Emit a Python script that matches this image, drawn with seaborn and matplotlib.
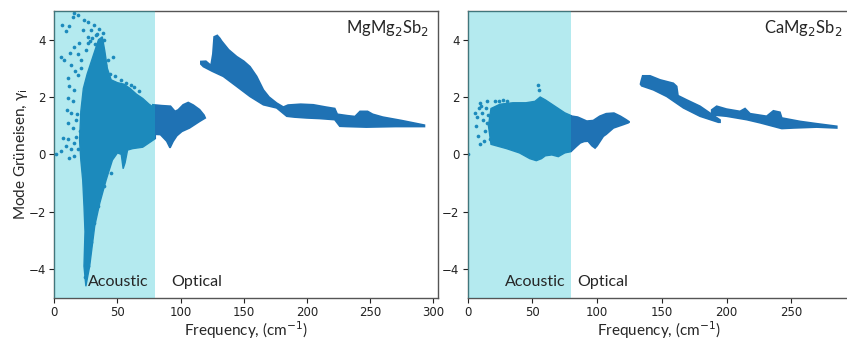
import matplotlib
matplotlib.use("Agg")
import matplotlib.pyplot as plt
import seaborn as sns
import pandas as pd

# ---------------- data ----------------
# MgMg2Sb2 : dense acoustic cloud outline (frequency, gamma)
mg_ac_core_f = [25, 28, 32, 36, 41, 46, 50, 53, 54.5, 56, 58, 62, 70, 75, 80,
                80, 75, 70, 65, 60, 55, 50, 45, 42, 40, 38, 35, 32, 29, 26, 23, 21, 20, 21, 22.5, 23.5, 24.3, 23.5]
mg_ac_core_g = [-4.6, -3.9, -2.5, -1.7, -0.9, -0.2, 0.05, 0.0, -0.5, -0.3, 0.15, 0.2, 0.25, 0.4, 0.55,
                1.6, 1.75, 1.95, 2.1, 2.3, 2.45, 2.5, 2.6, 3.0, 3.6, 4.1, 4.0, 3.6, 3.2, 2.8, 2.3, 1.5, 0.5, -0.2, -0.9, -1.8, -2.7, -3.9]
# MgMg2Sb2 : scattered acoustic points
mg_ac_pts_f = [15.3, 18.5, 14.5, 5.8, 11.9, 9.2, 23.7, 26.4, 31.7, 35.6, 38.3, 39.6, 5.3, 7.9, 12.7,
               15.8, 19.8, 13.2, 10.6, 11.9, 15.8, 10.6, 14.5, 10.0, 13.2, 10.6, 14.5, 6.6, 10.6, 15.8,
               9.2, 1.3, 5.3, 13.2, 18.5, 43.5, 52.8, 60.7, 46.2, 42.2, 22.4, 29.0, 33.0, 26.4, 25.0,
               34.3, 21.1, 18.5, 22.4, 25.0, 26.4, 25.0, 26.4, 25.0, 25.0, 25.0, 24.3, 26.4, 29.0,
               31.7, 34.3, 39.6, 44.9, 15.8, 11.9, 17.0, 20.0, 16.5, 19.0, 36.5, 28.0, 32.5, 37.0,
               30.0, 33.5, 27.0, 40.5, 44.0, 48.0, 57.0, 63.0, 67.0, 21.5, 18.0, 17.5]
mg_ac_pts_g = [4.94, 4.86, 4.80, 4.51, 4.47, 4.31, 4.68, 4.60, 4.51, 4.39, 4.22, 3.99, 3.41, 3.29, 3.53,
               3.76, 3.87, 3.12, 2.66, 2.37, 2.25, 1.96, 1.85, 1.56, 1.44, 1.10, 0.92, 0.57, 0.52, 0.40,
               0.28, 0.00, 0.11, 0.17, 0.17, 2.54, 2.60, 2.43, 3.41, 3.29, 4.34, 4.34, 4.16, 4.10, 3.64,
               3.76, 3.00, 2.77, -0.29, -0.99, -1.57, -2.14, -2.72, -3.30, -3.65, -4.11, -4.29, -3.88, -3.07,
               -2.38, -1.80, -1.10, -0.64, -0.06, -0.12, 1.2, 0.8, 2.9, 3.5, 3.75, 3.95, 3.85, 3.6,
               4.05, 4.2, 3.9, 3.1, 2.8, 2.75, 2.5, 2.35, 2.2, 3.3, 1.4, 0.6]
# MgMg2Sb2 : optical branches (closed outlines)
mg_op1_f = [78, 80, 84, 89, 91.6, 94, 97, 101, 107, 115, 119.5,
            118.5, 115, 110, 106, 102, 98, 95.5, 92, 85, 78]
mg_op1_g = [0.75, 0.7, 0.69, 0.46, 0.23, 0.45, 0.65, 0.8, 0.92, 1.15, 1.27,
            1.37, 1.56, 1.72, 1.81, 1.73, 1.55, 1.5, 1.68, 1.7, 1.73]
mg_op2_f = [116, 120, 124, 125.5, 126.5, 129, 131, 132.5, 138, 144.4, 150, 154.9, 160.2, 165.5, 170,
            176, 181.3, 185, 195, 205, 215, 222, 224, 232, 238, 242, 248, 252, 260, 275, 293,
            293, 270, 247, 232, 226, 222, 210, 199.8, 190, 184, 176, 165.5, 160, 154.9, 144.4,
            133.8, 125, 118, 116]
mg_op2_g = [3.24, 3.25, 3.1, 3.5, 4.1, 4.15, 4.05, 3.95, 3.65, 3.41, 3.25, 3.06, 2.72, 2.25, 2.0,
            1.79, 1.65, 1.72, 1.75, 1.73, 1.65, 1.6, 1.4, 1.35, 1.32, 1.5, 1.5, 1.4, 1.3, 1.18, 1.02,
            0.97, 0.97, 0.95, 0.97, 0.98, 1.21, 1.25, 1.27, 1.3, 1.33, 1.62, 1.73, 1.88, 2.02, 2.37,
            2.72, 2.9, 3.06, 3.15]

# CaMg2Sb2 : dense acoustic cloud outline
ca_ac_core_f = [18, 30, 40, 48, 53, 57, 60, 65, 70, 75, 80,
                80, 75, 70, 65, 60, 56, 52, 45, 35, 25, 18, 16]
ca_ac_core_g = [0.35, 0.2, 0.05, -0.15, -0.22, -0.15, -0.05, -0.02, -0.08, 0.05, 0.1,
                1.35, 1.45, 1.6, 1.75, 1.9, 2.0, 1.85, 1.8, 1.8, 1.75, 1.6, 1.0]
# CaMg2Sb2 : scattered acoustic points
ca_ac_pts_f = [5.4, 6.4, 8.8, 9.5, 14.7, 16.0, 12.1, 8.2, 9.5, 17.3, 13.4, 0.5, 19.8, 22.4, 30.1,
               54.6, 55.4, 11.0, 7.5, 15.0, 18.5, 21.0, 12.5, 10.5, 14.0, 27.0, 24.0]
ca_ac_pts_g = [1.45, 0.98, 1.62, 1.79, 1.85, 1.39, 1.21, 0.63, 0.35, 0.52, 0.81, 0.00, 1.04, 1.56, 1.85,
               2.43, 2.26, 1.45, 1.30, 1.10, 0.75, 1.85, 0.45, 1.70, 1.60, 1.90, 1.85]
# CaMg2Sb2 : optical branches
ca_op1_f = [78, 85, 92, 97, 102, 107, 113, 118, 122, 125,
            124, 120.3, 112.6, 107, 104.8, 100, 98.4, 96, 93, 90, 87, 84, 80, 78]
ca_op1_g = [1.35, 1.3, 1.16, 1.18, 1.33, 1.42, 1.44, 1.33, 1.22, 1.13,
            1.1, 1.04, 0.92, 0.7, 0.63, 0.3, 0.22, 0.3, 0.46, 0.45, 0.4, 0.28, 0.11, 0.1]
ca_op2_f = [134, 135.2, 140.9, 148.6, 158.9, 161.5, 162.5, 169.2, 179.5, 187.2, 195,
            195, 193.7, 179.5, 166.7, 153.8, 143.5, 134.4, 133.5]
ca_op2_g = [2.55, 2.74, 2.74, 2.6, 2.48, 2.37, 2.05, 1.9, 1.68, 1.44, 1.2,
            1.12, 1.12, 1.33, 1.62, 2.02, 2.25, 2.39, 2.45]
ca_op3_f = [188.5, 192.4, 200, 210.4, 214.3, 218.2, 231, 236.2, 241.3, 242.7, 256.8, 269.7, 285.2,
            285.2, 269.7, 251.7, 242.7, 231, 226, 215.6, 200, 188.5]
ca_op3_g = [1.55, 1.68, 1.58, 1.5, 1.6, 1.42, 1.33, 1.52, 1.47, 1.27, 1.15, 1.07, 0.98,
            0.92, 0.95, 0.92, 0.9, 1.04, 1.1, 1.21, 1.33, 1.38]

x_ticks_left = [0, 50, 100, 150, 200, 250, 300]
x_ticks_right = [0, 50, 100, 150, 200, 250]
y_ticks = [-4, -2, 0, 2, 4]
acoustic_edge = 80
titles = ["MgMg$_2$Sb$_2$", "CaMg$_2$Sb$_2$"]

# ---------------- drawing ----------------
sns.set_style("ticks")
plt.rcParams["font.family"] = ["DejaVu Sans"]
label_font = ["Lato", "DejaVu Sans"]
blue = "#1f72b4"

fig = plt.figure(figsize=(8.47, 3.40), dpi=100)
ax1 = fig.add_axes([0.0641, 0.1244, 0.4527, 0.8432])
ax2 = fig.add_axes([0.5522, 0.1244, 0.4527, 0.8432])

panels = [
    (ax1, mg_ac_core_f, mg_ac_core_g, mg_ac_pts_f, mg_ac_pts_g,
     [(mg_op1_f, mg_op1_g), (mg_op2_f, mg_op2_g)], (0, 303.5), x_ticks_left, 26.5, 92.5),
    (ax2, ca_ac_core_f, ca_ac_core_g, ca_ac_pts_f, ca_ac_pts_g,
     [(ca_op1_f, ca_op1_g), (ca_op2_f, ca_op2_g), (ca_op3_f, ca_op3_g)], (0, 296.3), x_ticks_right, 29.0, 84.5),
]

for i, (ax, cf, cg, pf, pg, ops, xlim, xt, ac_x, op_x) in enumerate(panels):
    ax.fill(cf, cg, color=blue, ec=blue, lw=1.0, zorder=2)
    for of, og in ops:
        ax.fill(of, og, color=blue, ec=blue, lw=1.2, zorder=2)
    pts = pd.DataFrame({"f": pf, "g": pg})
    sns.scatterplot(data=pts, x="f", y="g", ax=ax, color=blue, s=7, linewidth=0, zorder=2.5)
    ax.axvspan(0, acoustic_edge, color="tab:cyan", alpha=0.32, lw=0, zorder=3)
    ax.set_xlim(*xlim)
    ax.set_ylim(-5, 5)
    ax.set_xticks(xt)
    ax.set_yticks(y_ticks)
    ax.tick_params(labelsize=8.5, length=3.5, width=0.8, colors="#222222", pad=2.5)
    for sp in ax.spines.values():
        sp.set_visible(True)
        sp.set_color("#555555")
        sp.set_linewidth(1.0)
    ax.set_xlabel("Frequency, (cm$^{-1}$)", fontsize=11, family=label_font, labelpad=0)
    ax.set_ylabel("")
    ax.text(0.977, 0.94, titles[i], transform=ax.transAxes, ha="right", va="center",
            fontsize=12, family=label_font, zorder=5)
    ax.text(ac_x, -4.45, "Acoustic", ha="left", va="center", fontsize=11.5,
            family=label_font, zorder=5)
    ax.text(op_x, -4.45, "Optical", ha="left", va="center", fontsize=11.5,
            family=label_font, zorder=5)

ax1.set_ylabel("Mode Grüneisen, γ$_\\mathrm{i}$", fontsize=11, family=label_font, labelpad=-1)

fig.savefig("out.png", dpi=100)
